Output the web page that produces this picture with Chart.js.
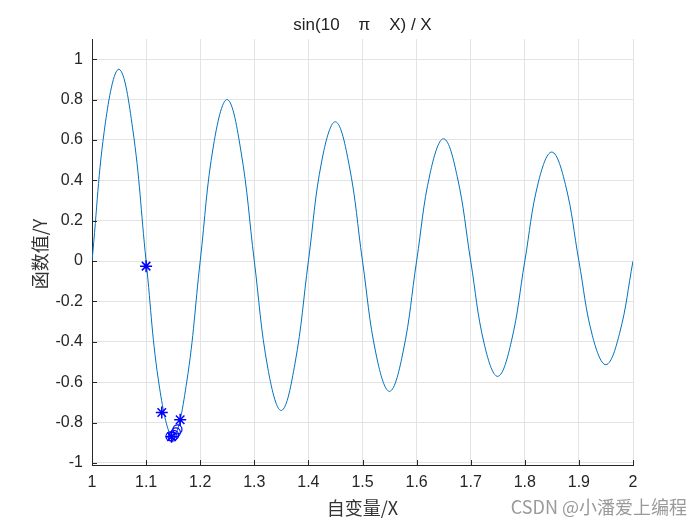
<!DOCTYPE html>
<html>
<head>
<meta charset="utf-8">
<script src="https://cdn.jsdelivr.net/npm/chart.js@4/dist/chart.umd.min.js"></script>
<style>
  body { margin: 0; background: #fff; }
  #wrap { width: 700px; height: 525px; }
</style>
</head>
<body>
<div id="wrap"><canvas id="grafik" width="700" height="525"></canvas></div>
<script>
// ===== data =====
const xVals = [1.000, 1.025, 1.050, 1.075, 1.100, 1.125, 1.150, 1.175, 1.200, 1.225,
               1.250, 1.275, 1.300, 1.325, 1.350, 1.375, 1.400, 1.425, 1.450, 1.475,
               1.500, 1.525, 1.550, 1.575, 1.600, 1.625, 1.650, 1.675, 1.700, 1.725,
               1.750, 1.775, 1.800, 1.825, 1.850, 1.875, 1.900, 1.925, 1.950, 1.975, 2.000];
const yVals = [0, 0.69, 0.95, 0.66, 0, -0.63, -0.87, -0.60, 0, 0.58,
               0.80, 0.55, 0, -0.53, -0.74, -0.51, 0, 0.50, 0.69, 0.48,
               0, -0.46, -0.645, -0.45, 0, 0.435, 0.606, 0.42, 0, -0.41,
               -0.571, -0.40, 0, 0.39, 0.54, 0.38, 0, -0.37, -0.513, -0.36, 0];

// search points (stars) and final points (circles)
const starX = [1.100, 1.129, 1.163, 1.147];
const starY = [-0.025, -0.750, -0.786, -0.870];
const circX = [1.145, 1.149, 1.152, 1.155, 1.158];
const circY = [-0.868, -0.870, -0.862, -0.848, -0.834];

const xTicks = [1, 1.1, 1.2, 1.3, 1.4, 1.5, 1.6, 1.7, 1.8, 1.9, 2];
const xTickLabels = ["1", "1.1", "1.2", "1.3", "1.4", "1.5", "1.6", "1.7", "1.8", "1.9", "2"];
const yTicks = [-1, -0.8, -0.6, -0.4, -0.2, 0, 0.2, 0.4, 0.6, 0.8, 1];
const yTickLabels = ["-1", "-0.8", "-0.6", "-0.4", "-0.2", "0", "0.2", "0.4", "0.6", "0.8", "1"];

const judul = "sin(10    \u03c0    X) / X";
const labelX = "自变量/X";
const labelY = "函数值/Y";
const watermark = "CSDN @小潘爱上编程";

const toPoints = (xs, ys) => xs.map((x, i) => ({ x: x, y: ys[i] }));

// ===== text drawn around the axes =====
const teksPlugin = {
    id: "teks",
    afterDraw(chart) {
        const c = chart.ctx;
        const a = chart.chartArea;
        c.save();
        c.fillStyle = "#222";
        c.textAlign = "center";
        c.textBaseline = "middle";
        c.font = "17px 'Liberation Sans', Arial, sans-serif";
        c.fillText(judul, (a.left + a.right) / 2, 25);

        c.font = "18px 'Noto Sans CJK SC', sans-serif";
        c.fillStyle = "#333";
        c.fillText(labelX, (a.left + a.right) / 2, 508);

        c.save();
        c.translate(40, (a.top + a.bottom) / 2 + 2);
        c.rotate(-Math.PI / 2);
        c.fillText(labelY, 0, 0);
        c.restore();

        // small inward tick marks like MATLAB
        c.strokeStyle = "#262626";
        c.lineWidth = 1;
        const sx = chart.scales.x, sy = chart.scales.y;
        c.beginPath();
        xTicks.forEach(t => {
            const px = Math.round(sx.getPixelForValue(t)) + 0.5;
            c.moveTo(px, a.bottom);
            c.lineTo(px, a.bottom - 5);
        });
        yTicks.forEach(t => {
            const py = Math.round(sy.getPixelForValue(t)) + 0.5;
            c.moveTo(a.left, py);
            c.lineTo(a.left + 5, py);
        });
        c.stroke();

        c.font = "18px 'Noto Sans CJK SC', sans-serif";
        c.fillStyle = "#9a9a9a";
        c.textAlign = "right";
        c.fillText(watermark, 687, 507);
        c.restore();
    }
};

new Chart(document.getElementById("grafik"), {
    type: "scatter",
    data: {
        datasets: [
            {
                label: "f",
                data: toPoints(xVals, yVals),
                showLine: true,
                borderColor: "#0072BD",
                borderWidth: 1,
                pointRadius: 0,
                tension: 0.4,
                order: 3
            },
            {
                label: "stars",
                data: toPoints(starX, starY),
                pointStyle: "star",
                pointRadius: 6,
                borderColor: "#0000FF",
                backgroundColor: "#0000FF",
                pointBorderWidth: 1.5,
                order: 1
            },
            {
                label: "circles",
                data: toPoints(circX, circY),
                pointStyle: "circle",
                pointRadius: 4.5,
                borderColor: "#0000FF",
                backgroundColor: "rgba(0,0,0,0)",
                pointBorderWidth: 1.2,
                order: 2
            }
        ]
    },
    options: {
        responsive: false,
        animation: false,
        layout: { padding: { left: 0, right: 67, top: 39, bottom: 0 } },
        plugins: {
            legend: { display: false },
            tooltip: { enabled: false }
        },
        scales: {
            x: {
                type: "linear",
                min: 1,
                max: 2,
                afterBuildTicks: s => { s.ticks = xTicks.map(v => ({ value: v })); },
                afterFit: s => { s.height = 60; },
                ticks: {
                    padding: 8,
                    color: "#262626",
                    font: { family: "'Liberation Sans', Arial, sans-serif", size: 16 },
                    maxRotation: 0,
                    callback: (v, i) => xTickLabels[i]
                },
                grid: { color: "#e3e3e3", drawTicks: false },
                border: { color: "#262626", width: 1 }
            },
            y: {
                type: "linear",
                min: -1.01,
                max: 1.1,
                afterBuildTicks: s => { s.ticks = yTicks.map(v => ({ value: v })); },
                afterFit: s => { s.width = 92; },
                ticks: {
                    padding: 9,
                    color: "#262626",
                    font: { family: "'Liberation Sans', Arial, sans-serif", size: 16 },
                    callback: (v, i) => yTickLabels[i]
                },
                grid: { color: "#e3e3e3", drawTicks: false },
                border: { color: "#262626", width: 1 }
            }
        }
    },
    plugins: [teksPlugin]
});
</script>
</body>
</html>
